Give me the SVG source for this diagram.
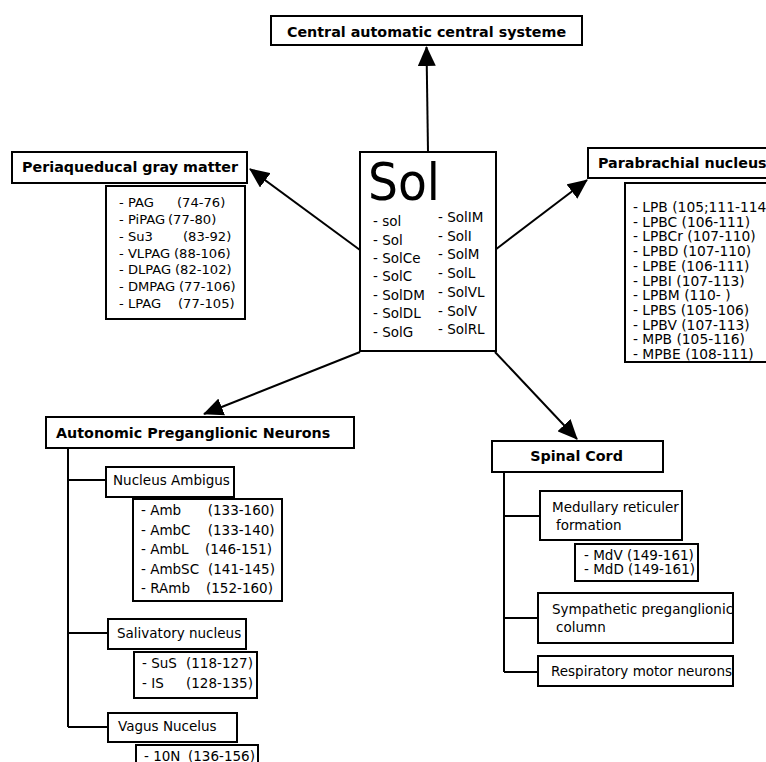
<svg xmlns="http://www.w3.org/2000/svg" width="766" height="762" viewBox="0 0 766 762">
<style>
rect.b{fill:#fff;stroke:#000;stroke-width:2}
.h{font-family:"DejaVu Sans",sans-serif;font-weight:bold;font-size:14.3px;fill:#000}
.t{font-family:"DejaVu Sans",sans-serif;font-size:13.5px;fill:#000}
.g{font-family:"DejaVu Sans",sans-serif;font-size:13.1px;fill:#000}
.p{font-family:"DejaVu Sans",sans-serif;font-size:13.8px;fill:#000}
.c line, .c path{stroke:#000;stroke-width:2;fill:none}
</style>
<defs>
<marker id="ah" viewBox="0 0 20 18" refX="19" refY="9" markerWidth="20" markerHeight="18" markerUnits="userSpaceOnUse" orient="auto">
<path d="M0,0 L20,9 L0,18 Z" fill="#000"/>
</marker>
</defs>
<rect x="0" y="0" width="766" height="762" fill="#fff"/>

<g class="c" id="connectors">
<line x1="428" y1="152" x2="426.5" y2="47" marker-end="url(#ah)"/>
<line x1="360" y1="250" x2="250" y2="169" marker-end="url(#ah)"/>
<line x1="495" y1="250" x2="587" y2="180" marker-end="url(#ah)"/>
<line x1="360" y1="352" x2="204" y2="414" marker-end="url(#ah)"/>
<line x1="495" y1="352" x2="577" y2="439" marker-end="url(#ah)"/>
<path d="M68,448 V727 M68,480 H106 M68,633 H108 M68,727 H108"/>
<path d="M504,472 V672 M504,516 H540 M504,618 H538 M504,672 H538"/>
</g>

<g id="central">
<rect class="b" x="271" y="16" width="311" height="29"/>
<text class="h" x="426.5" y="37" text-anchor="middle">Central automatic central systeme</text>
</g>

<g id="sol">
<rect class="b" x="360" y="152" width="136" height="199"/>
<text x="368" y="200" font-family="DejaVu Sans,sans-serif" font-size="52" textLength="72" lengthAdjust="spacingAndGlyphs">Sol</text>
<text class="t" x="373" y="226">- sol</text>
<text class="t" x="373" y="244.5">- Sol</text>
<text class="t" x="373" y="263">- SolCe</text>
<text class="t" x="373" y="281">- SolC</text>
<text class="t" x="373" y="299.5">- SolDM</text>
<text class="t" x="373" y="318">- SolDL</text>
<text class="t" x="373" y="336.5">- SolG</text>
<text class="t" x="438" y="222">- SolIM</text>
<text class="t" x="438" y="240.7">- SolI</text>
<text class="t" x="438" y="259.4">- SolM</text>
<text class="t" x="438" y="278">- SolL</text>
<text class="t" x="438" y="296.8">- SolVL</text>
<text class="t" x="438" y="315.5">- SolV</text>
<text class="t" x="438" y="334.2">- SolRL</text>
</g>

<g id="pag">
<rect class="b" x="12" y="152" width="235" height="31"/>
<text class="h" x="22" y="172">Periaqueducal gray matter</text>
<rect class="b" x="106" y="186" width="139" height="133"/>
<text class="g" x="119" y="207">- PAG<tspan x="177">(74-76)</tspan></text>
<text class="g" x="119" y="224">- PiPAG<tspan x="168">(77-80)</tspan></text>
<text class="g" x="119" y="241">- Su3<tspan x="183">(83-92)</tspan></text>
<text class="g" x="119" y="257.5">- VLPAG<tspan x="174">(88-106)</tspan></text>
<text class="g" x="119" y="274">- DLPAG<tspan x="175">(82-102)</tspan></text>
<text class="g" x="119" y="291">- DMPAG<tspan x="179">(77-106)</tspan></text>
<text class="g" x="119" y="308">- LPAG<tspan x="178">(77-105)</tspan></text>
</g>

<g id="parabrachial">
<rect class="b" x="588" y="148" width="200" height="30"/>
<text class="h" x="598" y="168">Parabrachial nucleus</text>
<rect class="b" x="625" y="183" width="170" height="179"/>
<text class="p" x="633" y="212">- LPB (105;111-114)</text>
<text class="p" x="633" y="226.7">- LPBC (106-111)</text>
<text class="p" x="633" y="241.4">- LPBCr (107-110)</text>
<text class="p" x="633" y="256.1">- LPBD  (107-110)</text>
<text class="p" x="633" y="270.8">- LPBE  (106-111)</text>
<text class="p" x="633" y="285.5">- LPBI  (107-113)</text>
<text class="p" x="633" y="300.2">- LPBM (110- )</text>
<text class="p" x="633" y="314.9">- LPBS (105-106)</text>
<text class="p" x="633" y="329.6">- LPBV (107-113)</text>
<text class="p" x="633" y="344.3">- MPB (105-116)</text>
<text class="p" x="633" y="359">- MPBE (108-111)</text>
</g>

<g id="apn">
<rect class="b" x="46" y="417" width="308" height="31"/>
<text class="h" x="56" y="437.5">Autonomic Preganglionic Neurons</text>
</g>

<g id="ambigus">
<rect class="b" x="106" y="467" width="128" height="30"/>
<text class="t" x="113" y="485">Nucleus Ambigus</text>
<rect class="b" x="133" y="499" width="149" height="102"/>
<text class="t" x="141" y="515">- Amb<tspan x="207.7">(133-160)</tspan></text>
<text class="t" x="141" y="534.5">- AmbC<tspan x="207.7">(133-140)</tspan></text>
<text class="t" x="141" y="554">- AmbL<tspan x="205">(146-151)</tspan></text>
<text class="t" x="141" y="573.5">- AmbSC<tspan x="208">(141-145)</tspan></text>
<text class="t" x="141" y="593">- RAmb<tspan x="206">(152-160)</tspan></text>
</g>

<g id="salivatory">
<rect class="b" x="108" y="619" width="138" height="30"/>
<text class="t" x="117" y="638">Salivatory nucleus</text>
<rect class="b" x="134" y="652" width="123" height="46"/>
<text class="t" x="142" y="668">- SuS<tspan x="186">(118-127)</tspan></text>
<text class="t" x="142" y="688">- IS<tspan x="186">(128-135)</tspan></text>
</g>

<g id="vagus">
<rect class="b" x="108" y="713" width="129" height="29"/>
<text class="t" x="118" y="731">Vagus Nucelus</text>
<rect class="b" x="136" y="745" width="122" height="40"/>
<text class="t" x="144" y="761">- 10N<tspan x="188">(136-156)</tspan></text>
</g>

<g id="spinal">
<rect class="b" x="492" y="441" width="171" height="31"/>
<text class="h" x="576.5" y="460.5" text-anchor="middle">Spinal Cord</text>
</g>

<g id="medullary">
<rect class="b" x="540" y="491" width="142" height="49"/>
<text class="t" x="552" y="512">Medullary reticuler</text>
<text class="t" x="556" y="530">formation</text>
<rect class="b" x="575" y="544" width="123" height="37"/>
<text class="t" x="584" y="559.5">- MdV (149-161)</text>
<text class="t" x="584" y="574">- MdD (149-161)</text>
</g>

<g id="sympathetic">
<rect class="b" x="538" y="593" width="195" height="50"/>
<text class="t" x="552" y="614">Sympathetic preganglionic</text>
<text class="t" x="556" y="632">column</text>
</g>

<g id="respiratory">
<rect class="b" x="538" y="656" width="195" height="30"/>
<text class="t" x="551" y="676">Respiratory motor neurons</text>
</g>
</svg>
